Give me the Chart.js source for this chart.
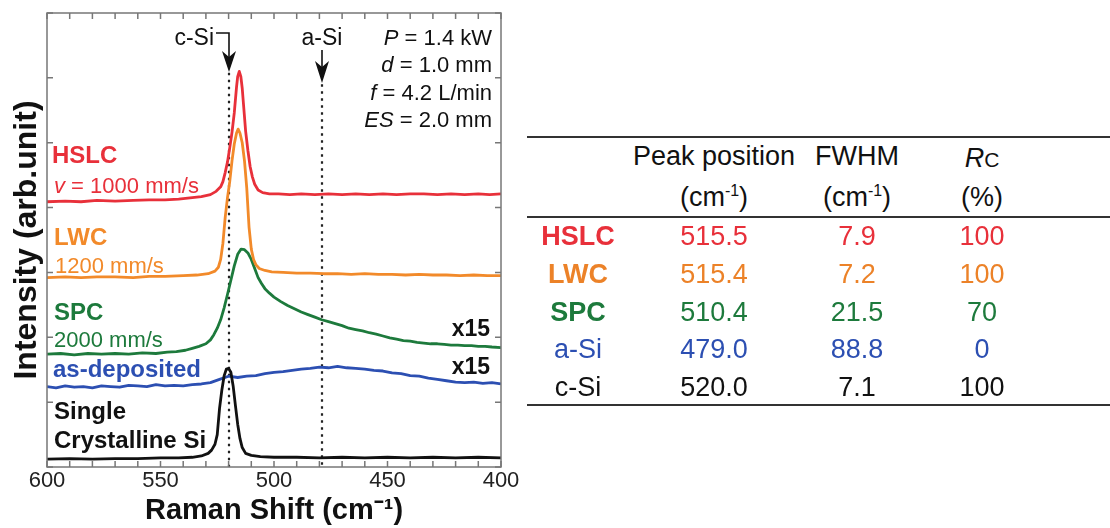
<!DOCTYPE html>
<html>
<head>
<meta charset="utf-8">
<script src="https://cdn.jsdelivr.net/npm/chart.js@4.4.1/dist/chart.umd.min.js"></script>
<style>
  body { margin: 0; background: #fff; width: 1110px; height: 528px; position: relative; overflow: hidden;
         font-family: "Liberation Sans", Arial, sans-serif; }
  #plot { position: absolute; left: 0; top: 0; }
  .rule { position: absolute; left: 527px; width: 583px; height: 2px; background: #333; }
  .cell { position: absolute; width: 200px; height: 32px; line-height: 32px; text-align: center;
          font-size: 27px; color: #111; white-space: nowrap; }
  .cell sup { font-size: 16px; vertical-align: 10px; line-height: 0; }
</style>
</head>
<body>
<canvas id="plot" width="525" height="528"></canvas>
<div id="table"></div>
<script>
// Raman spectra, x = Raman shift (cm-1), y = offset intensity (arb. unit)
const hslcX = [600,592,585,578,570,562,555,548,542,537,532,528,525.5,523.5,522.5,521.5,520.5,519.5,518.5,517.5,
  516.5,516,515.3,514.6,514,513.5,512.5,511.5,510.5,509.5,508.5,507,505,502,498,493,488,482,476,470,464,458,
  452,446,440,434,428,422,416,410,405,400];
const hslcY = [4.09,4.10,4.09,4.11,4.10,4.11,4.12,4.12,4.13,4.15,4.17,4.20,4.25,4.32,4.40,4.54,4.70,4.92,5.16,5.46,
  5.86,6.02,6.10,6.02,5.84,5.62,5.18,4.88,4.63,4.47,4.36,4.27,4.23,4.21,4.21,4.20,4.21,4.20,4.21,4.20,4.21,4.20,
  4.21,4.20,4.21,4.21,4.20,4.21,4.20,4.21,4.20,4.21];

const lwcX = [600,592,585,578,570,562,555,548,540,534,529,526,524.5,523.5,522.5,521.5,520.5,519.5,518.5,
  517.5,516.5,515.8,515,514,513,512,511,510,509,508,506.5,504,501,496,490,484,478,472,466,
  460,454,448,442,436,430,424,418,412,406,400];
const lwcY = [2.92,2.93,2.92,2.93,2.93,2.92,2.94,2.94,2.95,2.96,2.98,3.02,3.08,3.20,3.45,3.85,4.15,4.40,4.72,
  4.98,5.15,5.21,5.15,5.00,4.72,4.30,3.70,3.36,3.20,3.12,3.06,3.03,3.01,3.00,2.99,2.99,2.98,2.98,2.97,
  2.98,2.97,2.97,2.96,2.97,2.96,2.96,2.95,2.96,2.95,2.95];

const spcX = [600,594,588,582,576,570,564,558,552,547,543,539,536,533,530,528,526.5,525,523.5,522,
  520.5,519,517.5,516,514.5,513,511.5,510,508.5,507,505.5,504,502,500,497,494,491,488,485,482,
  479,476,473,470,467,464,461,458,455,452,449,446,443,440,437,434,431,428,425,422,
  419,416,413,410,407,404,400];
const spcY = [1.74,1.75,1.73,1.75,1.74,1.75,1.74,1.76,1.75,1.77,1.78,1.80,1.83,1.86,1.90,1.96,2.04,2.14,2.27,2.45,
  2.66,2.88,3.10,3.28,3.36,3.35,3.30,3.20,3.06,2.92,2.83,2.75,2.68,2.62,2.55,2.49,2.44,2.39,2.35,2.31,
  2.27,2.24,2.21,2.18,2.14,2.12,2.10,2.07,2.05,2.02,1.99,1.97,1.95,1.94,1.92,1.91,1.90,1.90,1.89,1.88,
  1.88,1.87,1.87,1.86,1.86,1.85,1.84];

const asdepX = [600,596,592,588,584,580,576,572,568,564,560,556,552,548,544,540,536,532,528,524,
  520,516,512,508,504,500,496,492,488,484,480,476,472,468,464,460,456,452,448,444,
  440,436,432,428,424,420,416,412,408,404,400];
const asdepY = [1.24,1.22,1.25,1.23,1.24,1.22,1.25,1.24,1.23,1.26,1.25,1.24,1.27,1.25,1.26,1.25,1.27,1.28,1.30,1.35,
  1.40,1.38,1.40,1.41,1.44,1.46,1.47,1.49,1.51,1.52,1.54,1.53,1.55,1.53,1.52,1.51,1.49,1.48,1.45,1.44,
  1.41,1.40,1.37,1.35,1.33,1.31,1.30,1.31,1.29,1.30,1.28];

const csiX = [600,590,580,570,560,550,542,536,532,529,527.5,526,525,524,523,522,521,520,519,518,
  517,516,515,514,512.5,510,506,500,490,480,470,460,450,440,430,420,410,400];
const csiY = [0.12,0.13,0.12,0.13,0.13,0.14,0.14,0.15,0.17,0.21,0.26,0.35,0.50,0.90,1.18,1.40,1.51,1.52,1.46,1.25,
  0.95,0.66,0.44,0.30,0.21,0.18,0.16,0.15,0.15,0.14,0.15,0.14,0.15,0.14,0.15,0.14,0.15,0.14];

const xTickLabels = [600, 550, 500, 450, 400];
const markPeaks = [520, 479];   // c-Si and a-Si reference lines

// table on the right
const tableNames = ['HSLC', 'LWC', 'SPC', 'a-Si', 'c-Si'];
const tablePeak = ['515.5', '515.4', '510.4', '479.0', '520.0'];
const tableFwhm = ['7.9', '7.2', '21.5', '88.8', '7.1'];
const tableRc = ['100', '100', '70', '0', '100'];
const tableBold = [true, true, true, false, false];

const RED = '#e8303a', ORANGE = '#f28a2a', GREEN = '#1d7a3c', BLUE = '#2c4fb2', BLACK = '#111';
const tableColors = [RED, '#ec8228', GREEN, BLUE, BLACK];

const FONT = '"Liberation Sans", Arial, sans-serif';

function pts(xs, ys) {
  return xs.map((x, i) => ({ x: x, y: ys[i] }));
}

function ds(label, xs, ys, color) {
  return {
    label: label, data: pts(xs, ys), borderColor: color, borderWidth: 2.8,
    pointRadius: 0, tension: 0, fill: false, borderJoinStyle: 'round'
  };
}

// write text made of runs with different styles, right or left aligned
function runs(ctx, parts, x, y, align) {
  let total = 0;
  parts.forEach(p => { ctx.font = p[1]; total += ctx.measureText(p[0]).width; });
  let cx = align === 'right' ? x - total : x;
  ctx.textAlign = 'left';
  parts.forEach(p => {
    ctx.font = p[1];
    ctx.fillText(p[0], cx, y);
    cx += ctx.measureText(p[0]).width;
  });
}

function arrowHead(ctx, x, tipY, len, half) {
  ctx.beginPath();
  ctx.moveTo(x, tipY);
  ctx.lineTo(x - half, tipY - len);
  ctx.lineTo(x, tipY - len + 6);
  ctx.lineTo(x + half, tipY - len);
  ctx.closePath();
  ctx.fill();
}

const decor = {
  id: 'decor',
  beforeDatasetsDraw(chart) {
    const ctx = chart.ctx, xs = chart.scales.x, ys = chart.scales.y, a = chart.chartArea;
    ctx.save();
    ctx.strokeStyle = '#222';
    ctx.lineWidth = 2.2;
    ctx.setLineDash([2.5, 4.5]);
    const tops = [ys.getPixelForValue(6.08), ys.getPixelForValue(5.9)];
    markPeaks.forEach((v, i) => {
      const px = Math.round(xs.getPixelForValue(v));
      ctx.beginPath();
      ctx.moveTo(px, tops[i]);
      ctx.lineTo(px, a.bottom);
      ctx.stroke();
    });
    ctx.restore();
  },
  afterDatasetsDraw(chart) {
    const ctx = chart.ctx, xs = chart.scales.x, ys = chart.scales.y, a = chart.chartArea;
    ctx.save();
    // frame
    ctx.strokeStyle = '#777';
    ctx.lineWidth = 1.5;
    ctx.strokeRect(a.left, a.top, a.right - a.left, a.bottom - a.top);
    // inward ticks
    ctx.beginPath();
    for (let v = 400; v <= 600; v += 10) {
      const px = xs.getPixelForValue(v);
      ctx.moveTo(px, a.bottom); ctx.lineTo(px, a.bottom - 6);
      ctx.moveTo(px, a.top); ctx.lineTo(px, a.top + 6);
    }
    for (let v = 0; v <= 7; v++) {
      const py = ys.getPixelForValue(v);
      ctx.moveTo(a.left, py); ctx.lineTo(a.left + 6, py);
      ctx.moveTo(a.right, py); ctx.lineTo(a.right - 6, py);
    }
    ctx.stroke();

    // peak markers
    const cx = Math.round(xs.getPixelForValue(markPeaks[0]));
    const ax = Math.round(xs.getPixelForValue(markPeaks[1]));
    ctx.strokeStyle = BLACK; ctx.fillStyle = BLACK; ctx.lineWidth = 1.6;
    ctx.beginPath();
    ctx.moveTo(cx - 13, 33); ctx.lineTo(cx, 33); ctx.lineTo(cx, 62);
    ctx.moveTo(ax, 50); ctx.lineTo(ax, 72);
    ctx.stroke();
    arrowHead(ctx, cx, 72, 21, 7);
    arrowHead(ctx, ax, 83, 22, 7);

    ctx.textBaseline = 'alphabetic';
    ctx.font = '23px ' + FONT;
    ctx.textAlign = 'right';
    ctx.fillText('c-Si', cx - 15, 45);
    ctx.textAlign = 'center';
    ctx.fillText('a-Si', ax, 45);

    // experimental conditions
    const it = 'italic 22px ' + FONT, nm = '22px ' + FONT;
    const rx = a.right - 9;
    runs(ctx, [['P', it], [' = 1.4 kW', nm]], rx, 45, 'right');
    runs(ctx, [['d', it], [' = 1.0 mm', nm]], rx, 72, 'right');
    runs(ctx, [['f', it], [' = 4.2 L/min', nm]], rx, 100, 'right');
    runs(ctx, [['ES', it], [' = 2.0 mm', nm]], rx, 127, 'right');

    // curve labels
    const bd = 'bold 24px ' + FONT, lb = a.left + 5;
    ctx.fillStyle = RED;
    runs(ctx, [['HSLC', bd]], lb, 163, 'left');
    runs(ctx, [['v', it], [' = 1000 mm/s', nm]], lb + 2, 193, 'left');
    ctx.fillStyle = ORANGE;
    runs(ctx, [['LWC', bd]], lb + 2, 245, 'left');
    runs(ctx, [['1200 mm/s', nm]], lb + 3, 273, 'left');
    ctx.fillStyle = GREEN;
    runs(ctx, [['SPC', bd]], lb + 2, 320, 'left');
    runs(ctx, [['2000 mm/s', nm]], lb + 2, 347, 'left');
    ctx.fillStyle = BLUE;
    runs(ctx, [['as-deposited', bd]], lb + 1, 377, 'left');
    ctx.fillStyle = BLACK;
    runs(ctx, [['Single', bd]], lb + 2, 419, 'left');
    runs(ctx, [['Crystalline Si', bd]], lb + 2, 448, 'left');
    runs(ctx, [['x15', 'bold 23px ' + FONT]], a.right - 11, 336, 'right');
    runs(ctx, [['x15', 'bold 23px ' + FONT]], a.right - 11, 374, 'right');
    ctx.restore();
  }
};

new Chart(document.getElementById('plot'), {
  type: 'line',
  data: {
    datasets: [
      ds('c-Si', csiX, csiY, BLACK),
      ds('HSLC', hslcX, hslcY, RED),
      ds('LWC', lwcX, lwcY, ORANGE),
      ds('SPC', spcX, spcY, GREEN),
      ds('as-deposited', asdepX, asdepY, BLUE)
    ]
  },
  options: {
    responsive: false,
    devicePixelRatio: 1,
    animation: false,
    layout: { padding: { top: 13, right: 24, left: 0, bottom: 0 } },
    plugins: { legend: { display: false }, tooltip: { enabled: false } },
    scales: {
      x: {
        type: 'linear', reverse: true, min: 400, max: 600,
        grid: { display: false, drawTicks: false },
        border: { display: false },
        ticks: {
          stepSize: 10, autoSkip: false, maxRotation: 0, padding: 1,
          color: '#222', font: { family: FONT, size: 22 },
          callback: v => xTickLabels.includes(v) ? String(v) : ''
        },
        title: {
          display: true, text: 'Raman Shift (cm\u207B\u00B9)', color: '#111',
          font: { family: FONT, size: 29, weight: 'bold' }, padding: 0
        },
        afterFit: s => { s.height = 61; }
      },
      y: {
        min: 0, max: 7,
        grid: { display: false, drawTicks: false },
        border: { display: false },
        ticks: { display: false, stepSize: 1 },
        title: {
          display: true, text: 'Intensity (arb.unit)', color: '#111',
          font: { family: FONT, size: 32, weight: 'bold' }, padding: { top: 8, bottom: 0 }
        },
        afterFit: s => { s.width = 47; }
      }
    }
  },
  plugins: [decor]
});

// table
const tbl = document.getElementById('table');
const colX = [578, 714, 857, 982];
const rowY = [236, 274, 312, 349, 387];
function cell(html, cx, cy, color, bold) {
  const d = document.createElement('div');
  d.className = 'cell';
  d.style.left = (cx - 100) + 'px';
  d.style.top = (cy - 16) + 'px';
  if (color) d.style.color = color;
  if (bold) d.style.fontWeight = 'bold';
  d.innerHTML = html;
  tbl.appendChild(d);
}
[136, 216, 404].forEach(y => {
  const r = document.createElement('div');
  r.className = 'rule';
  r.style.top = y + 'px';
  tbl.appendChild(r);
});
cell('Peak position', colX[1], 156);
cell('(cm<sup>-1</sup>)', colX[1], 197);
cell('FWHM', colX[2], 156);
cell('(cm<sup>-1</sup>)', colX[2], 197);
cell('<i>R</i><span style="font-size:21px">C</span>', colX[3], 158);
cell('(%)', colX[3], 197);
tableNames.forEach((n, i) => {
  const c = tableColors[i];
  cell(n, colX[0], rowY[i], c, tableBold[i]);
  cell(tablePeak[i], colX[1], rowY[i], c);
  cell(tableFwhm[i], colX[2], rowY[i], c);
  cell(tableRc[i], colX[3], rowY[i], c);
});
</script>
</body>
</html>
